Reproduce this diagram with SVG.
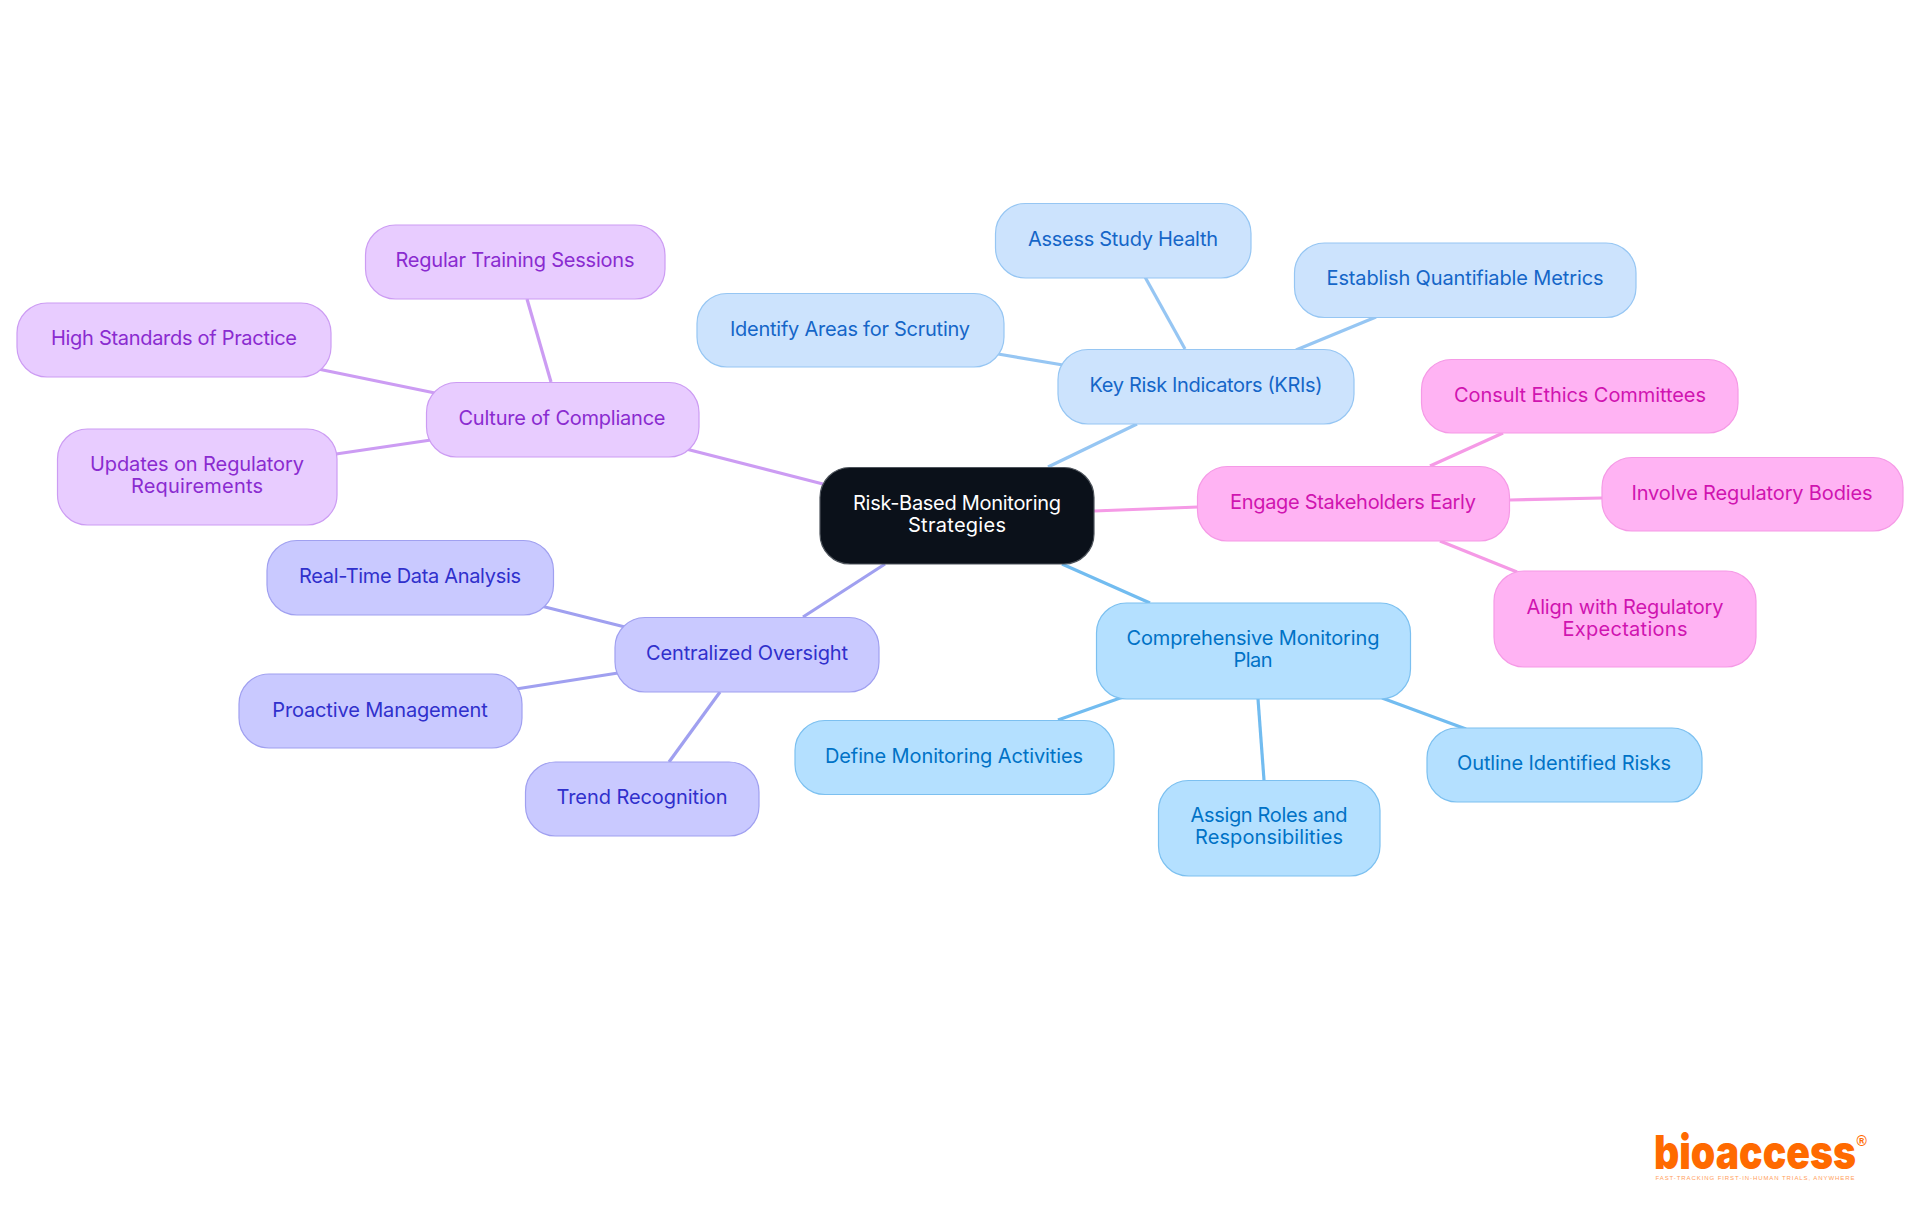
<svg xmlns="http://www.w3.org/2000/svg" width="1920" height="1215" viewBox="0 0 1920 1215">
<style>
text{font-family:"Inter","Noto Sans","Liberation Sans",sans-serif;font-size:20px;text-anchor:middle;font-weight:400}
rect{stroke-width:1.2;rx:30px;ry:30px}
#connectors line{stroke-width:3.2;stroke-linecap:butt}
.r rect{fill:#0b111a;stroke:#4d535b}.r text{fill:#fff}
.k rect{fill:#cce3fd;stroke:#96c6f3}.k text{fill:#1566c8}
.c rect{fill:#b4e0ff;stroke:#7cc0f0}.c text{fill:#0072c6}
.e rect{fill:#ffb3f3;stroke:#f59ae6}.e text{fill:#d014b0}
.p rect{fill:#e8ccff;stroke:#cc9cf3}.p text{fill:#8a2bd0}
.v rect{fill:#c9c9ff;stroke:#a0a0f0}.v text{fill:#3030cc}
.lk{stroke:#96c6f3}.lc{stroke:#72bcf0}.le{stroke:#f59ae6}.lp{stroke:#cc9cf3}.lv{stroke:#a0a0f0}
</style>
<g id="connectors">
<line class="lp" x1="686" y1="449" x2="823" y2="484"/>
<line class="lk" x1="1048" y1="467" x2="1137" y2="424"/>
<line class="le" x1="1094" y1="511" x2="1198" y2="507"/>
<line class="lv" x1="885" y1="564" x2="803" y2="617"/>
<line class="lc" x1="1062" y1="564" x2="1150" y2="603"/>
<line class="lk" x1="1145" y1="277" x2="1185" y2="349"/>
<line class="lk" x1="1376" y1="317" x2="1296" y2="350"/>
<line class="lk" x1="998" y1="354" x2="1063" y2="365"/>
<line class="lp" x1="527" y1="299" x2="551" y2="382"/>
<line class="lp" x1="318" y1="369" x2="435" y2="393"/>
<line class="lp" x1="336" y1="454" x2="431" y2="440"/>
<line class="lv" x1="541" y1="606" x2="625" y2="627"/>
<line class="lv" x1="516" y1="689" x2="618" y2="673"/>
<line class="lv" x1="720" y1="692" x2="669" y2="762"/>
<line class="lc" x1="1123" y1="697" x2="1058" y2="720"/>
<line class="lc" x1="1258" y1="699" x2="1264" y2="780"/>
<line class="lc" x1="1382" y1="698" x2="1466" y2="729"/>
<line class="le" x1="1430" y1="466" x2="1503" y2="433"/>
<line class="le" x1="1510" y1="500" x2="1602" y2="498"/>
<line class="le" x1="1440" y1="541" x2="1517" y2="572"/>
</g>
<g id="root" class="r"><rect x="820" y="467.500" width="274" height="96.500"/><text x="957" y="510" textLength="208">Risk-Based Monitoring</text><text x="957" y="532" textLength="98">Strategies</text></g>
<g id="kri" class="k"><rect x="1058" y="349.500" width="296" height="74.500"/><text x="1206" y="392" textLength="233">Key Risk Indicators (KRIs)</text></g>
<g id="assess" class="k"><rect x="995.500" y="203.500" width="255.500" height="74.500"/><text x="1123" y="246" textLength="190">Assess Study Health</text></g>
<g id="establish" class="k"><rect x="1294.500" y="243" width="341.500" height="74.500"/><text x="1465" y="285" textLength="277">Establish Quantifiable Metrics</text></g>
<g id="identify" class="k"><rect x="697" y="293.500" width="307" height="73.500"/><text x="850" y="336" textLength="240">Identify Areas for Scrutiny</text></g>
<g id="engage" class="e"><rect x="1197.500" y="466.500" width="312" height="74.500"/><text x="1353" y="509" textLength="246">Engage Stakeholders Early</text></g>
<g id="consult" class="e"><rect x="1421.500" y="359.500" width="316.500" height="73.500"/><text x="1580" y="402" textLength="252">Consult Ethics Committees</text></g>
<g id="involve" class="e"><rect x="1602" y="457.500" width="301" height="73.500"/><text x="1752" y="500" textLength="241">Involve Regulatory Bodies</text></g>
<g id="align" class="e"><rect x="1494" y="571" width="262" height="96"/><text x="1625" y="614" textLength="197">Align with Regulatory</text><text x="1625" y="636" textLength="125">Expectations</text></g>
<g id="comprehensive" class="c"><rect x="1096.500" y="603" width="314" height="96"/><text x="1253" y="645" textLength="253">Comprehensive Monitoring</text><text x="1253" y="667" textLength="39">Plan</text></g>
<g id="define" class="c"><rect x="795" y="720.500" width="319" height="74"/><text x="954" y="763" textLength="258">Define Monitoring Activities</text></g>
<g id="assign" class="c"><rect x="1158.500" y="780.500" width="221.500" height="95.500"/><text x="1269" y="822" textLength="157">Assign Roles and</text><text x="1269" y="844" textLength="148">Responsibilities</text></g>
<g id="outline" class="c"><rect x="1427" y="728" width="275" height="74"/><text x="1564" y="770" textLength="214">Outline Identified Risks</text></g>
<g id="culture" class="p"><rect x="426.500" y="382.500" width="272.500" height="74.500"/><text x="562" y="425" textLength="207">Culture of Compliance</text></g>
<g id="regular" class="p"><rect x="365.500" y="225" width="299.500" height="74"/><text x="515" y="267" textLength="239">Regular Training Sessions</text></g>
<g id="high" class="p"><rect x="17" y="303" width="314" height="74"/><text x="174" y="345" textLength="246">High Standards of Practice</text></g>
<g id="updates" class="p"><rect x="57.500" y="429" width="279.500" height="96"/><text x="197" y="471" textLength="214">Updates on Regulatory</text><text x="197" y="493" textLength="132">Requirements</text></g>
<g id="centralized" class="v"><rect x="615" y="617.500" width="264" height="74.500"/><text x="747" y="660" textLength="202">Centralized Oversight</text></g>
<g id="realtime" class="v"><rect x="267" y="540.500" width="286.500" height="74.500"/><text x="410" y="583" textLength="222">Real-Time Data Analysis</text></g>
<g id="proactive" class="v"><rect x="239" y="674" width="283" height="74"/><text x="380" y="717" textLength="215.500">Proactive Management</text></g>
<g id="trend" class="v"><rect x="525.500" y="762" width="233.500" height="74"/><text x="642" y="804" textLength="171">Trend Recognition</text></g>
<g id="logo">
<text x="1755" y="1169" style="font-size:47px;font-weight:900;fill:#ff6a00" textLength="202" lengthAdjust="spacingAndGlyphs">bioaccess</text>
<text x="1856.500" y="1146" style="font-family:'Liberation Sans',sans-serif;font-size:14px;font-weight:700;fill:#ff6a00;text-anchor:start">®</text>
<text x="1755" y="1179.500" style="font-family:'Liberation Sans',sans-serif;font-size:6px;fill:#ffa05c" textLength="199">FAST-TRACKING FIRST-IN-HUMAN TRIALS, ANYWHERE</text>
</g>
</svg>
